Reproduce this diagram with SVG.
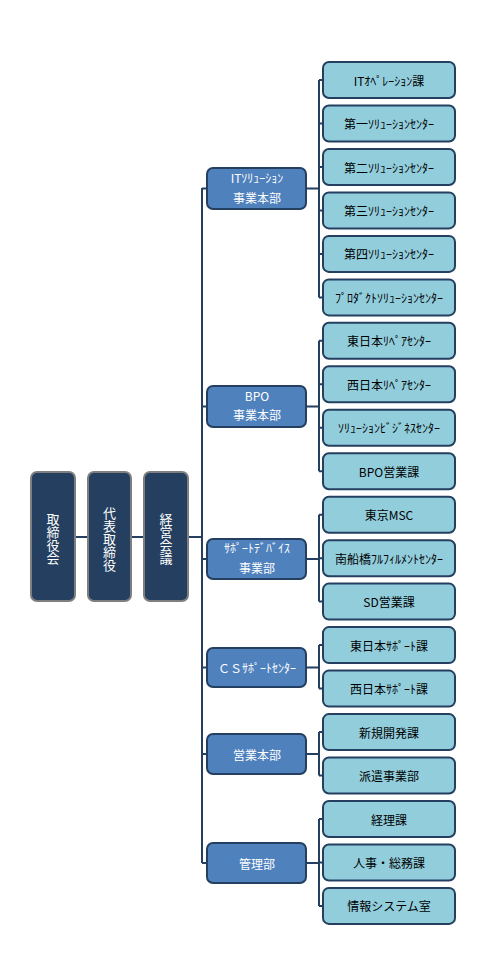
<svg xmlns="http://www.w3.org/2000/svg" width="484" height="963" viewBox="0 0 484 963">
<style>
text{font-family:"Noto Sans CJK JP","Noto Sans",sans-serif;text-anchor:middle;dominant-baseline:central}
.top rect{fill:#243f60;stroke:#7f7f7f;stroke-width:2}
.top text{fill:#fff;font-size:13px;writing-mode:vertical-rl}
.mid rect{fill:#4f81bd;stroke:#243f60;stroke-width:2}
.mid text{fill:#fff;font-size:12px}
.leaf rect{fill:#92cddc;stroke:#243f60;stroke-width:2}
.leaf text{fill:#000;font-size:12px}
.conn path{fill:none;stroke:#243f60;stroke-width:2}
</style>
<g class="conn">
<path d="M75 537H88M131 537H144M188 537H202"/>
<path d="M202 188V863M202 188.5H207M202 406.5H207M202 559H207M202 667.5H207M202 754H207M202 863H207"/>
<path d="M306 188.5H319M319 80V297.4M319 80H323M319 123.5H323M319 167H323M319 210.4H323M319 253.9H323M319 297.4H323"/>
<path d="M306 406.5H319M319 340.8V471.2M319 340.8H323M319 384.3H323M319 427.8H323M319 471.2H323"/>
<path d="M306 559H319M319 514.7V601.6M319 514.7H323M319 558.2H323M319 601.6H323"/>
<path d="M306 667.5H319M319 645.1V688.6M319 645.1H323M319 688.6H323"/>
<path d="M306 754H319M319 732.1V775.5M319 732.1H323M319 775.5H323"/>
<path d="M306 863H319M319 819V905.9M319 819H323M319 862.5H323M319 905.9H323"/>
</g>
<g id="n-torishimariyakukai" class="top"><rect x="31" y="472" width="44" height="129" rx="6"/><text x="53" y="539">取締役会</text></g>
<g id="n-daihyo" class="top"><rect x="88" y="472" width="43" height="129" rx="6"/><text x="109.5" y="539">代表取締役</text></g>
<g id="n-keiei" class="top"><rect x="144" y="472" width="44" height="129" rx="6"/><text x="166" y="539">経営会議</text></g>
<g id="m-it" class="mid"><rect x="207" y="168" width="99" height="41" rx="6"/><text x="257" y="177">ITｿﾘｭｰｼｮﾝ</text><text x="257" y="197">事業本部</text></g>
<g id="m-bpo" class="mid"><rect x="207" y="386" width="99" height="41" rx="6"/><text x="257" y="395">BPO</text><text x="257" y="414">事業本部</text></g>
<g id="m-support" class="mid"><rect x="207" y="539" width="99" height="40" rx="6"/><text x="257" y="547">ｻﾎﾟｰﾄﾃﾞﾊﾞｲｽ</text><text x="257" y="567">事業部</text></g>
<g id="m-cs" class="mid"><rect x="207" y="648" width="99" height="39" rx="6"/><text x="257" y="667.5">ＣＳｻﾎﾟｰﾄｾﾝﾀｰ</text></g>
<g id="m-eigyo" class="mid"><rect x="207" y="734" width="99" height="40" rx="6"/><text x="257" y="754">営業本部</text></g>
<g id="m-kanri" class="mid"><rect x="207" y="843" width="99" height="40" rx="6"/><text x="257" y="863">管理部</text></g>
<g id="l0" class="leaf"><rect x="323" y="62" width="132" height="36" rx="6"/><text x="389" y="80">ITｵﾍﾟﾚｰｼｮﾝ課</text></g>
<g id="l1" class="leaf"><rect x="323" y="105.5" width="132" height="36" rx="6"/><text x="389" y="123.5">第一ｿﾘｭｰｼｮﾝｾﾝﾀｰ</text></g>
<g id="l2" class="leaf"><rect x="323" y="149" width="132" height="36" rx="6"/><text x="389" y="167">第二ｿﾘｭｰｼｮﾝｾﾝﾀｰ</text></g>
<g id="l3" class="leaf"><rect x="323" y="192.4" width="132" height="36" rx="6"/><text x="389" y="210.4">第三ｿﾘｭｰｼｮﾝｾﾝﾀｰ</text></g>
<g id="l4" class="leaf"><rect x="323" y="235.9" width="132" height="36" rx="6"/><text x="389" y="253.9">第四ｿﾘｭｰｼｮﾝｾﾝﾀｰ</text></g>
<g id="l5" class="leaf"><rect x="323" y="279.4" width="132" height="36" rx="6"/><text x="389" y="297.4">ﾌﾟﾛﾀﾞｸﾄｿﾘｭｰｼｮﾝｾﾝﾀｰ</text></g>
<g id="l6" class="leaf"><rect x="323" y="322.8" width="132" height="36" rx="6"/><text x="389" y="340.8">東日本ﾘﾍﾟｱｾﾝﾀｰ</text></g>
<g id="l7" class="leaf"><rect x="323" y="366.3" width="132" height="36" rx="6"/><text x="389" y="384.3">西日本ﾘﾍﾟｱｾﾝﾀｰ</text></g>
<g id="l8" class="leaf"><rect x="323" y="409.8" width="132" height="36" rx="6"/><text x="389" y="427.8">ｿﾘｭｰｼｮﾝﾋﾞｼﾞﾈｽｾﾝﾀｰ</text></g>
<g id="l9" class="leaf"><rect x="323" y="453.2" width="132" height="36" rx="6"/><text x="389" y="471.2">BPO営業課</text></g>
<g id="l10" class="leaf"><rect x="323" y="496.7" width="132" height="36" rx="6"/><text x="389" y="514.7">東京MSC</text></g>
<g id="l11" class="leaf"><rect x="323" y="540.2" width="132" height="36" rx="6"/><text x="389" y="558.2">南船橋ﾌﾙﾌｨﾙﾒﾝﾄｾﾝﾀｰ</text></g>
<g id="l12" class="leaf"><rect x="323" y="583.6" width="132" height="36" rx="6"/><text x="389" y="601.6">SD営業課</text></g>
<g id="l13" class="leaf"><rect x="323" y="627.1" width="132" height="36" rx="6"/><text x="389" y="645.1">東日本ｻﾎﾟｰﾄ課</text></g>
<g id="l14" class="leaf"><rect x="323" y="670.6" width="132" height="36" rx="6"/><text x="389" y="688.6">西日本ｻﾎﾟｰﾄ課</text></g>
<g id="l15" class="leaf"><rect x="323" y="714.1" width="132" height="36" rx="6"/><text x="389" y="732.1">新規開発課</text></g>
<g id="l16" class="leaf"><rect x="323" y="757.5" width="132" height="36" rx="6"/><text x="389" y="775.5">派遣事業部</text></g>
<g id="l17" class="leaf"><rect x="323" y="801" width="132" height="36" rx="6"/><text x="389" y="819">経理課</text></g>
<g id="l18" class="leaf"><rect x="323" y="844.5" width="132" height="36" rx="6"/><text x="389" y="862.5">人事・総務課</text></g>
<g id="l19" class="leaf"><rect x="323" y="887.9" width="132" height="36" rx="6"/><text x="389" y="905.9">情報システム室</text></g>
</svg>
